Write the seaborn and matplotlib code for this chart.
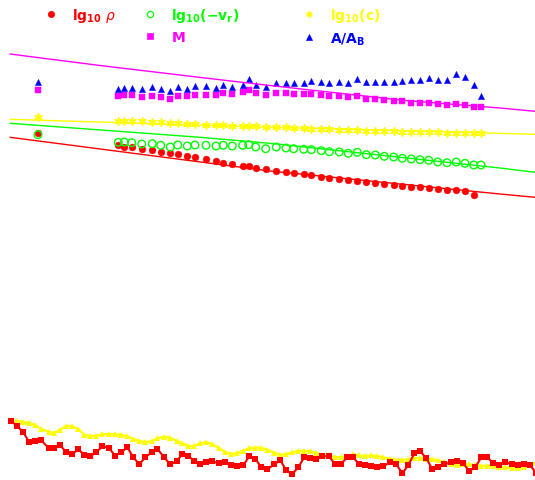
import numpy as np
import pandas as pd
import matplotlib
matplotlib.use("Agg")
import matplotlib.pyplot as plt
import seaborn as sns
from matplotlib.lines import Line2D

sns.set_style("white")
plt.rcParams['font.family'] = ['DejaVu Sans']

# ---------------- upper panel data (arbitrary units; y grows downward) ----
upper_x = [38, 118.3, 124.3, 131.7, 141.7, 152.3, 160.7, 170.3, 177.7, 187.3, 195,
           206, 216, 223.3, 232.3, 242.7, 248.7, 255.7, 265.7, 276.3, 286, 293.7, 303.7,
           311.3, 321.3, 329.3, 339.3, 348.3, 357.3, 366.3, 375.3, 384.3, 393.7,
           402.3, 411.3, 420, 428.7, 437.7, 447, 456.3, 465, 473.7, 481]

ratio_AB = [82.7, 89.7, 89.3, 89, 90, 88, 90, 92.3, 88.3, 89.7, 87.3,
            87, 89, 86.3, 87.7, 85.7, 80.3, 85.7, 87.7, 83.7, 84, 84.3, 83.7,
            82.3, 82.7, 83.7, 82.7, 83.7, 80.3, 83.3, 82.7, 82.7, 82.7, 82.3,
            81, 81, 79.3, 81, 81, 75.3, 77.7, 86.3, 97]

mass_M = [91.3, 97.3, 96.3, 96.3, 98.3, 97.3, 98.3, 100.3, 97.3, 97.3, 96.3,
          96, 96.3, 94.3, 95, 93.3, 91.3, 94.3, 96.3, 93.7, 94.3, 95.3, 95,
          95.3, 96.3, 97.3, 97.3, 98.3, 97.3, 100, 100.3, 101.3, 101.7, 102.3,
          103.7, 104.3, 103.7, 105, 106.3, 105.3, 106.3, 108.3, 108.3]

lg_c = [117.7, 121.7, 121.7, 122, 122.3, 123, 123.3, 123.7, 124, 124.7, 125,
        125.7, 126, 126.3, 126.7, 127, 127, 127.3, 127.7, 128, 128.3, 128.7, 129.3,
        129.7, 130.3, 130.3, 130.7, 131, 131.3, 131.7, 131.7, 132, 132.3, 132.7,
        132.7, 133, 133.3, 133.3, 133.7, 133.7, 134, 134.3, 134.3]

lg_vr = [135.7, 143.3, 143, 143.7, 145, 144.7, 146.3, 148, 146, 147, 146,
         146.3, 147, 146.3, 147, 146.3, 145.7, 148, 149.7, 148, 149, 149.7, 150.3,
         150.7, 151.7, 152.7, 153, 154.3, 153.3, 155.7, 156, 157.3, 158, 159.3,
         160, 160.7, 161.3, 163, 163.7, 163, 164.3, 166, 166]

lg_rho = [134, 146.3, 147.7, 148.3, 150, 151.3, 152.7, 154, 155, 157, 158.3,
          160, 162.3, 164, 165.3, 167.3, 167, 169, 170, 171.7, 172.7, 174, 175,
          176, 177.7, 178.7, 179.7, 181, 182, 182.7, 183.7, 184.7, 185.7, 186.7,
          187.7, 188.3, 189, 190.3, 191, 191, 192.3, 196, np.nan]

# fitted lines
fit_M_x = [10, 100, 205, 270, 405, 500, 535]
fit_M_y = [55, 66.5, 79, 86.5, 101.5, 109, 112.3]
fit_c_x = [10, 270, 535]
fit_c_y = [120.3, 128.3, 135.3]
fit_vr_x = [10, 200, 270, 500, 535]
fit_vr_y = [124.3, 138.3, 144.3, 169, 173.3]
fit_rho_x = [10, 270, 500, 535]
fit_rho_y = [138.3, 172, 195, 198.3]

# ---------------- lower panel data ----------------
lower_x = [11, 17.3, 23.3, 29.3, 35.3, 41, 48.7, 54.3, 60.3, 66.3, 72.3, 78.3, 84.3, 90.3,
           96.3, 102.3, 109, 115.3, 121.3, 127.3, 133.3, 139.3, 145.3, 151.7, 157.3, 164,
           170.3, 176.5, 182.3, 188.3, 194.3, 200.3, 206.3, 212.3, 219, 225, 231.3, 237.3,
           243.3, 249.3, 255.3, 261.3, 267.3, 274.3, 280.3, 286.3, 292, 298.3, 304.3, 310.3,
           316.3, 322.3, 329, 335, 341, 347, 353, 359.3, 365.3, 371.3, 377.3, 383.3, 390.3,
           396.3, 402.3, 408.3, 414.3, 420.3, 426.3, 432.3, 438.3, 444.3, 451.3, 457.3, 463.3,
           469.3, 475.3, 481.3, 487.3, 493.3, 499.3, 505.3, 512.3, 518.3, 524.3, 530.3, 536]

lower_red = [421.7, 427.3, 433.3, 443.3, 442.3, 441, 449.3, 449.3, 446.3, 453.3, 455.3, 450,
             456.3, 457.3, 453.3, 447.3, 449, 457, 453.3, 448.3, 458.3, 465.3, 458.3, 453.3,
             449.7, 458.3, 465.3, 462.3,
             455.3, 457.3, 461.7, 465.3, 463.3, 462.3, 464.3, 463.3, 466.3, 467.3, 466.3,
             457.3, 459.7, 468.3, 470.3, 465.3, 461.3, 471.3, 475.3, 468.3, 458.3, 459.3,
             460.3, 457.3, 457.3, 465.3, 465.3, 458.3, 458.3,
             465.3, 466.3, 467.3, 468.3, 467.3, 463.3, 465.3, 474.3, 466.3, 454.3, 452.3,
             459.3, 470.3, 468.3, 465.3, 463.3, 462.3, 464.3, 472.3, 468.3, 458.3, 458.3,
             464.3, 466.3, 463.3, 465.3, 466.3, 465.3, 466.3, 474]

lower_yellow = [421, 422, 422.7, 424, 426, 430, 432.7, 434, 430.7, 427, 427.3, 430, 435.7, 437,
                436.7, 435.3, 435, 435.3, 435.7, 437.3, 440, 442, 443, 442.3, 439.3, 437.7,
                438.7, 441.7,
                444.3, 447, 447, 444.3, 443.3, 445, 449, 453, 455, 454, 451.7, 449, 448.7,
                448.7, 450.7, 453.7, 455.7, 455.3, 453.3, 452, 451.7, 452.3, 453.7, 456, 457,
                458, 458, 457.3, 455.3,
                456.3, 457, 456.3, 457, 458.3, 459.7, 460.7, 460.7, 460.3, 459.3, 458.7,
                459.7, 460.3, 461.3, 463.3, 465.3, 466, 465.3, 465.3, 466.3, 466.7, 466.7,
                467.3, 468.3, 468.3, 469.3, 469.3, 468.3, 466.3, 463.3]

RED, GREEN, YELLOW, MAGENTA, BLUE = "#ff0000", "#00ff00", "#ffff00", "#ff00ff", "#0000ff"

fig = plt.figure(figsize=(5.35, 4.81), dpi=100)
ax = fig.add_axes([0, 0, 1, 1])

up = pd.DataFrame({"x": upper_x, "AB": ratio_AB, "M": mass_M, "c": lg_c,
                   "vr": lg_vr, "rho": lg_rho})
low = pd.DataFrame({"x": lower_x, "red": lower_red, "yellow": lower_yellow})

# fitted lines
for fx, fy, col in [(fit_M_x, fit_M_y, MAGENTA), (fit_c_x, fit_c_y, YELLOW),
                    (fit_vr_x, fit_vr_y, GREEN), (fit_rho_x, fit_rho_y, RED)]:
    sns.lineplot(x=fx, y=fy, color=col, lw=1.0, sort=False, ax=ax, legend=False)

# scatter series
sns.scatterplot(data=up, x="x", y="rho", marker="o", s=24, color=RED, edgecolor=RED,
                linewidth=0.3, ax=ax, legend=False)
sns.scatterplot(data=up, x="x", y="vr", marker="o", s=30, facecolor="none",
                edgecolor=GREEN, linewidth=1.0, ax=ax, legend=False)
sns.scatterplot(data=up, x="x", y="c", marker=(6, 2, 0), s=28, color=YELLOW,
                edgecolor=YELLOW, linewidth=1.1, ax=ax, legend=False)
sns.scatterplot(data=up, x="x", y="M", marker="s", s=20, color=MAGENTA, edgecolor=MAGENTA,
                linewidth=0.3, ax=ax, legend=False)
sns.scatterplot(data=up, x="x", y="AB", marker="^", s=20, color=BLUE, edgecolor=BLUE,
                linewidth=0.3, ax=ax, legend=False)

# lower panel
sns.lineplot(data=low, x="x", y="yellow", color=YELLOW, lw=1.6, marker="^", markersize=4.4,
             markeredgewidth=0, sort=False, ax=ax, legend=False)
sns.lineplot(data=low, x="x", y="red", color=RED, lw=1.5, marker="s", markersize=4.6,
             markeredgewidth=0, sort=False, ax=ax, legend=False)

ax.set_xlim(0, 535)
ax.set_ylim(481, 0)
ax.axis("off")


# legend
def handle(marker, col, fill=True, ms=4.5, mew=0.5):
    return Line2D([], [], linestyle="none", marker=marker, markersize=ms,
                  markerfacecolor=col if fill else "none", markeredgecolor=col,
                  markeredgewidth=mew)


lab_rho = r"$\mathbf{lg_{10}}\ \rho$"
lab_vr = r"$\mathbf{lg_{10}(-v_r)}$"
lab_c = r"$\mathbf{lg_{10}(c)}$"
lab_M = r"$\mathbf{M}$"
lab_AB = r"$\mathbf{A/A_B}$"

common = dict(frameon=False, loc="upper left", borderaxespad=0, borderpad=0,
              handlelength=1.0, handletextpad=1.0, labelspacing=0.45,
              prop={"size": 10})
W, H = 535.0, 481.0
top = 1 - 7 / H
leg1 = ax.legend([handle("o", RED)], [lab_rho], labelcolor=[RED],
                 bbox_to_anchor=(44 / W, top), **common)
ax.add_artist(leg1)
leg2 = ax.legend([handle("o", GREEN, fill=False, mew=0.9), handle("s", MAGENTA, ms=4)],
                 [lab_vr, lab_M], labelcolor=[GREEN, MAGENTA],
                 bbox_to_anchor=(143 / W, top), **common)
ax.add_artist(leg2)
leg3 = ax.legend([handle((6, 2, 0), YELLOW, mew=1.0), handle("^", BLUE, ms=4)],
                 [lab_c, lab_AB], labelcolor=[YELLOW, BLUE],
                 bbox_to_anchor=(302 / W, top), **common)

fig.savefig("out.png", dpi=100)
